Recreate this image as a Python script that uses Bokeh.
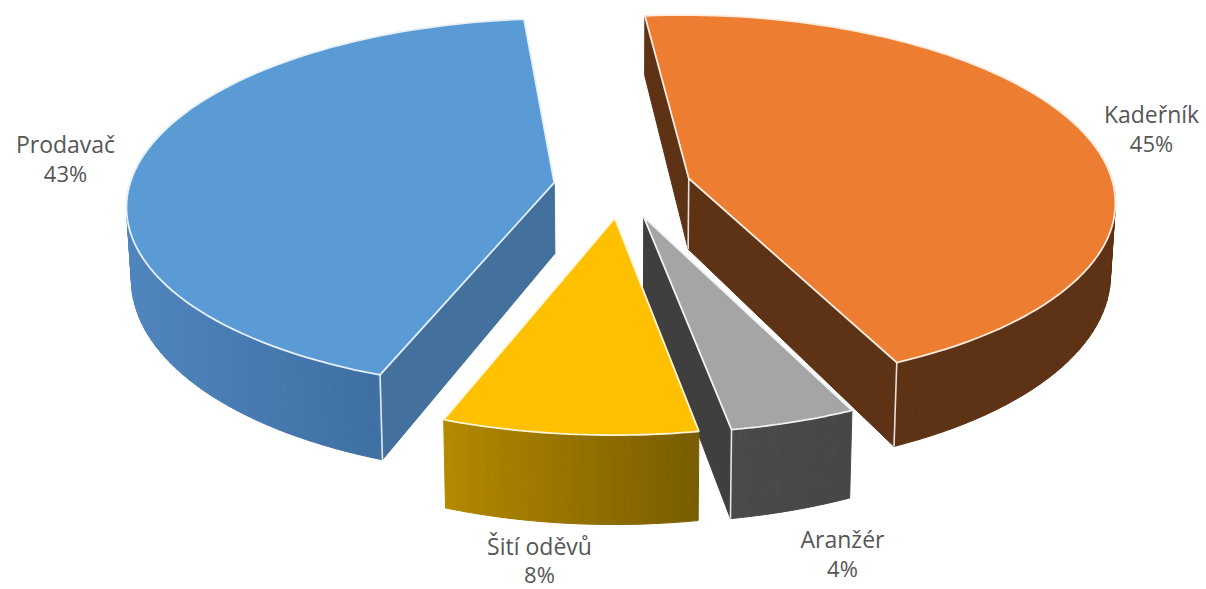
import math
from bokeh.plotting import figure
from bokeh.models import Range1d
from bokeh.core.properties import value
from bokeh.embed import file_html
from bokeh.resources import INLINE

categories = ["Kadeřník", "Aranžér", "Šití oděvů", "Prodavač"]
shares = [44.58, 4.2, 8.46, 42.76]
share_labels = ["45%", "4%", "8%", "43%"]

top_colors = ["#ec7d31", "#a5a5a5", "#ffc000", "#5b9bd5"]
wall_left = ["#5e3214", "#4a4a4a", "#b28800", "#5085bd"]
wall_right = ["#5e3214", "#464646", "#785c00", "#3f6fa3"]
cut_colors = ["#5e3214", "#3f3f3f", "#785c00", "#44709e"]
explode = [0.165, 0.17, 0.17, 0.16]
label_x = [1151, 842, 539, 65]
label_y = [113, 538, 545, 143]
label_gap = [29, 29, 28, 29]

START = -5.6
CX, CY, A, B, K = 621.0, 186.0, 425.0, 184.0, 0.115
D, POW, SHRINK = 71.0, 1.6, 0.99


def project(X, Y):
    w = 1 + K * Y
    return CX + A * X / w, CY - B * Y / w


def lower(px, py, Y):
    w = 1 + K * Y
    return CX + (px - CX) * SHRINK, py + D / w ** POW


def mix(c1, c2, t):
    a = [int(c1[i:i + 2], 16) for i in (1, 3, 5)]
    b = [int(c2[i:i + 2], 16) for i in (1, 3, 5)]
    return "#%02x%02x%02x" % tuple(round(a[i] + (b[i] - a[i]) * t) for i in range(3))


p = figure(width=1206, height=589, output_backend="svg", toolbar_location=None,
           x_range=Range1d(0, 1206), y_range=Range1d(589, 0), min_border=0,
           background_fill_color="white")
p.axis.visible = False
p.grid.visible = False
p.outline_line_color = None

total = sum(shares)
spans = []
angle = START
for s in shares:
    spans.append((angle, angle + 360.0 * s / total))
    angle = spans[-1][1]


def rim(i, t):
    mid = math.radians(sum(spans[i]) / 2)
    e = explode[i]
    r = math.radians(t)
    X, Y = math.sin(r) + e * math.sin(mid), math.cos(r) + e * math.cos(mid)
    return X, Y


def apex(i):
    mid = math.radians(sum(spans[i]) / 2)
    e = explode[i]
    return e * math.sin(mid), e * math.cos(mid)


def cut_face(i, t, color):
    X0, Y0 = apex(i)
    X1, Y1 = rim(i, t)
    a = project(X0, Y0)
    b = project(X1, Y1)
    c = lower(*b, Y1)
    d = lower(*a, Y0)
    p.patch([a[0], b[0], c[0], d[0]], [a[1], b[1], c[1], d[1]],
            fill_color=color, line_color=color, line_width=1)


def vertical_edge(X, Y):
    a = project(X, Y)
    b = lower(*a, Y)
    p.line([a[0], b[0]], [a[1], b[1]], line_color="white", line_width=1.6, line_alpha=0.85)


# back-to-front: orange, blue, gray, yellow
for i in [0, 3, 1, 2]:
    t0, t1 = spans[i]
    if i == 0:
        cut_face(i, t0, cut_colors[i])
        cut_face(i, t1, cut_colors[i])
    if i == 1:
        cut_face(i, t1, cut_colors[i])
    if i == 3:
        cut_face(i, t0, cut_colors[i])

    n = 90 if (t1 - t0) > 60 else 30
    ts = [t0 + (t1 - t0) * k / n for k in range(n + 1)]
    pts = [rim(i, t) for t in ts]
    tops = [project(*q) for q in pts]
    lows = [lower(*tops[k], pts[k][1]) for k in range(n + 1)]
    front = [k for k in range(n) if pts[k][1] < 0.35 or pts[k + 1][1] < 0.35]
    xmin = min(tops[k][0] for k in front)
    xmax = max(tops[k][0] for k in front)
    for k in front:
        f = ((tops[k][0] + tops[k + 1][0]) / 2 - xmin) / max(xmax - xmin, 1)
        col = mix(wall_left[i], wall_right[i], f)
        p.patch([tops[k][0], tops[k + 1][0], lows[k + 1][0], lows[k][0]],
                [tops[k][1], tops[k + 1][1], lows[k + 1][1], lows[k][1]],
                fill_color=col, line_color=col, line_width=1)

    a = project(*apex(i))
    p.patch([a[0]] + [q[0] for q in tops], [a[1]] + [q[1] for q in tops],
            fill_color=top_colors[i], line_color=mix(top_colors[i], "#ffffff", 0.85), line_width=1.8)

    if i == 0:
        vertical_edge(*rim(i, t1))
        vertical_edge(*apex(i))
    if i == 1:
        vertical_edge(*rim(i, t1))
    if i == 3:
        vertical_edge(*rim(i, t0))

for i in range(4):
    p.text([label_x[i]], [label_y[i]], text=[categories[i]], text_align="center", text_baseline="middle",
           text_font=value("Open Sans"), text_font_size="23px", text_color="#565656")
    p.text([label_x[i]], [label_y[i] + label_gap[i]], text=[share_labels[i]], text_align="center", text_baseline="middle",
           text_font=value("Open Sans"), text_font_size="22px", text_color="#565656")

open("out.html", "w").write(file_html(p, INLINE))
